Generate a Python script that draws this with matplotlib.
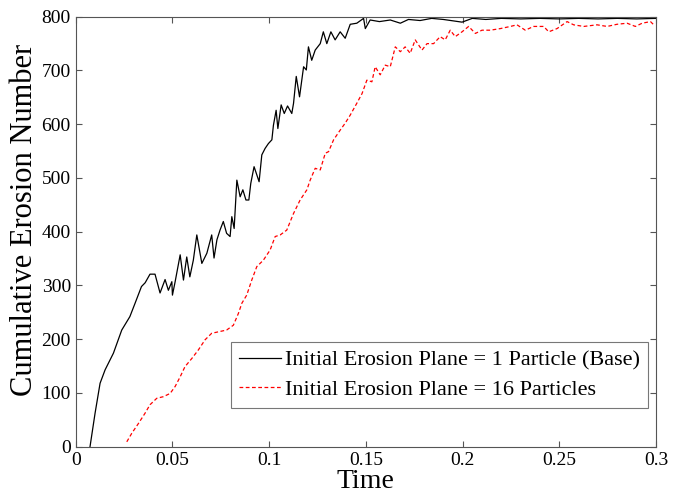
import matplotlib
matplotlib.use("Agg")
import matplotlib.pyplot as plt

# values
base_t = [0.0074, 0.010, 0.0126, 0.0152, 0.0195, 0.0238, 0.028, 0.0307, 0.034, 0.0359,
          0.0384, 0.041, 0.0436, 0.0462, 0.0479, 0.0497, 0.050, 0.0514, 0.054, 0.0557,
          0.0574, 0.059, 0.0608, 0.0626, 0.0652, 0.0678, 0.0703, 0.0715, 0.073, 0.0746,
          0.0763, 0.078, 0.0798, 0.0807, 0.0819, 0.0833, 0.085, 0.0864, 0.088, 0.0895,
          0.0905, 0.0922, 0.0936, 0.0948, 0.0962, 0.0979, 0.0996, 0.1014, 0.1022, 0.1036,
          0.1045, 0.1062, 0.1078, 0.1095, 0.1117, 0.1126, 0.114, 0.1157, 0.1178, 0.1192,
          0.1203, 0.122, 0.1238, 0.1264, 0.128, 0.1298, 0.1319, 0.1341, 0.1367, 0.1393,
          0.1419, 0.1453, 0.1488, 0.1497, 0.1522, 0.157, 0.1626, 0.1678, 0.172, 0.178,
          0.184, 0.19, 0.1997, 0.205, 0.212, 0.22, 0.23, 0.24, 0.25, 0.26, 0.27, 0.28,
          0.29, 0.30]
base_n = [0, 62, 118, 143, 174, 217, 242, 267, 298, 305,
          321, 321, 286, 311, 291, 307, 282, 307, 357, 310,
          353, 316, 347, 394, 341, 360, 394, 351, 385, 403,
          419, 397, 391, 428, 406, 496, 465, 478, 459, 459,
          490, 521, 506, 493, 543, 555, 564, 571, 598, 626,
          592, 636, 620, 634, 620, 639, 689, 651, 707, 701,
          744, 719, 738, 750, 772, 750, 772, 757, 772, 760,
          786, 788, 797, 778, 794, 791, 794, 788, 795, 793,
          797, 795, 790, 797, 795, 797, 796, 797, 796, 797,
          796, 797, 796, 797]

multi_t = [0.0264, 0.029, 0.0324, 0.0358, 0.0384, 0.0419, 0.0453, 0.0488, 0.0514, 0.054,
           0.0565, 0.060, 0.0634, 0.0669, 0.0703, 0.078, 0.0815, 0.0841, 0.0859, 0.0884,
           0.091, 0.0936, 0.097, 0.1005, 0.1031, 0.1057, 0.1091, 0.1126, 0.116, 0.1195,
           0.1212, 0.1238, 0.1264, 0.129, 0.1307, 0.1333, 0.1367, 0.1393, 0.1419, 0.1453,
           0.148, 0.1505, 0.1531, 0.1548, 0.1574, 0.160, 0.1626, 0.1652, 0.1678, 0.1703,
           0.1729, 0.1755, 0.179, 0.1816, 0.185, 0.1884, 0.191, 0.1936, 0.1962, 0.1997,
           0.2031, 0.2066, 0.210, 0.2143, 0.2195, 0.2247, 0.2281, 0.2324, 0.2367, 0.2419,
           0.2445, 0.2488, 0.254, 0.2574, 0.2626, 0.2695, 0.2747, 0.2798, 0.285, 0.2893,
           0.2928, 0.2971, 0.2988]
multi_n = [9, 25, 43, 62, 78, 90, 93, 99, 112, 130,
           149, 164, 180, 199, 211, 217, 226, 248, 267, 282,
           310, 335, 347, 366, 391, 394, 403, 434, 459, 478,
           496, 518, 515, 546, 549, 571, 589, 602, 617, 639,
           657, 682, 679, 707, 692, 710, 707, 744, 735, 744,
           732, 757, 738, 750, 750, 763, 757, 775, 763, 772,
           782, 769, 775, 775, 778, 782, 785, 775, 782, 782,
           772, 778, 791, 785, 782, 785, 782, 786, 788, 782,
           788, 791, 785]

labels = ["Initial Erosion Plane = 1 Particle (Base)", "Initial Erosion Plane = 16 Particles"]

plt.rcParams["font.family"] = ["Liberation Serif", "DejaVu Serif"]

fig = plt.figure(figsize=(6.82, 4.93), dpi=100)
ax = fig.add_axes([0.111, 0.094, 0.851, 0.872])

ax.plot(base_t, base_n, color="black", lw=0.9, label=labels[0])
ax.plot(multi_t, multi_n, color="red", lw=0.9, ls=(0, (3, 2)), label=labels[1])

ax.set_xlim(0, 0.3)
ax.set_ylim(0, 800)
ax.set_xticks([0, 0.05, 0.1, 0.15, 0.2, 0.25, 0.3])
ax.set_xticklabels(["0", "0.05", "0.1", "0.15", "0.2", "0.25", "0.3"])
ax.set_yticks(range(0, 801, 100))
ax.tick_params(direction="in", top=True, right=True, labelsize=14, length=4, color="#555555")
for sp in ax.spines.values():
    sp.set_color("#555555")

ax.set_xlabel("Time", fontsize=20, labelpad=0)
ax.set_ylabel("Cumulative Erosion Number", fontsize=22)
ax.yaxis.set_label_coords(-0.063, 0.527)

leg = ax.legend(loc="lower right", bbox_to_anchor=(0.986, 0.09), borderaxespad=0,
                fontsize=16, frameon=True, fancybox=False,
                edgecolor="#555555", handlelength=1.9, handletextpad=0.2,
                borderpad=0.35, labelspacing=0.4)
leg.get_frame().set_linewidth(0.8)

fig.savefig("out.png", dpi=100)
